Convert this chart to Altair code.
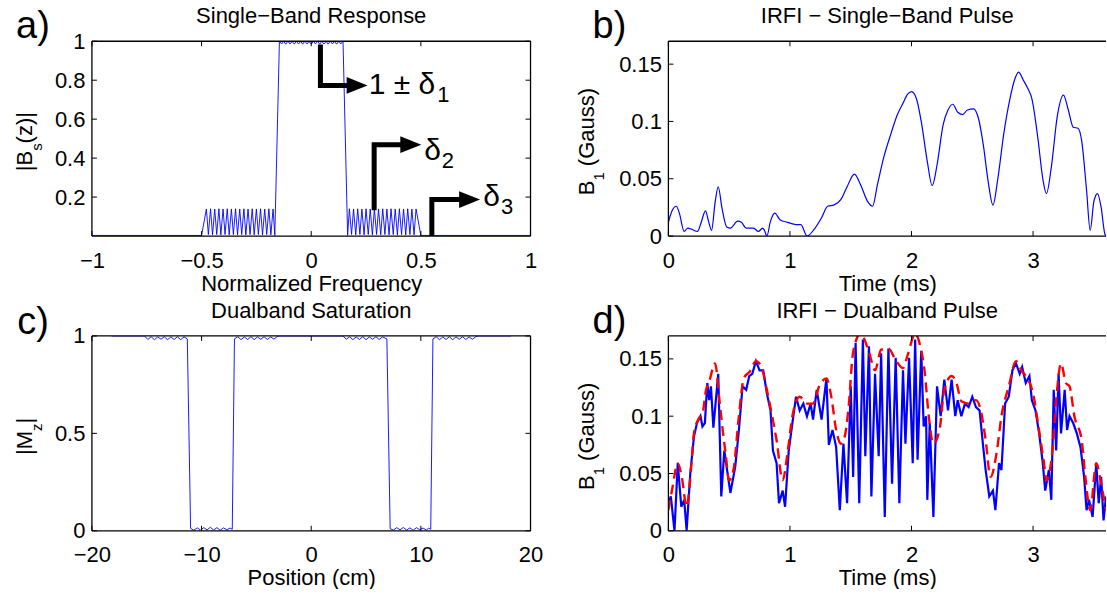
import altair as alt
import pandas as pd

FONT = "Liberation Sans"
FS = 22
WL, WR, H = 439, 438, 195
BLUE = "#0000ff"
RED = "#ff0000"

# ---------------- panel a: single-band response ----------------
A_X = [-1.0, -0.500,
       -0.478, -0.469, -0.459, -0.450, -0.440, -0.431, -0.421, -0.412, -0.402, -0.393, -0.383,
       -0.374, -0.364, -0.355, -0.345, -0.336, -0.326, -0.317, -0.307, -0.298, -0.288, -0.279,
       -0.269, -0.260, -0.250, -0.241, -0.231, -0.222, -0.212, -0.203, -0.193, -0.184, -0.174,
       -0.166,
       -0.145, -0.135, -0.126, -0.116, -0.106, -0.097, -0.087, -0.077, -0.068, -0.058, -0.048,
       -0.039, -0.029, -0.019, -0.010, 0.000, 0.010, 0.019, 0.029, 0.039, 0.048,
       0.058, 0.068, 0.077, 0.087, 0.097, 0.106, 0.116, 0.126, 0.135, 0.145,
       0.166,
       0.174, 0.184, 0.193, 0.203, 0.212, 0.222, 0.231, 0.241, 0.250, 0.260, 0.269,
       0.279, 0.288, 0.298, 0.307, 0.317, 0.326, 0.336, 0.345, 0.355, 0.364, 0.374,
       0.383, 0.393, 0.402, 0.412, 0.421, 0.431, 0.440, 0.450, 0.459, 0.469, 0.478,
       0.500, 1.0]
A_Y = [0.003, 0.003,
       0.139, 0.008, 0.140, 0.006, 0.139, 0.008, 0.140, 0.006, 0.139, 0.008, 0.140,
       0.006, 0.139, 0.008, 0.140, 0.006, 0.139, 0.008, 0.140, 0.006, 0.139, 0.008,
       0.140, 0.006, 0.139, 0.008, 0.140, 0.006, 0.139, 0.008, 0.140, 0.006, 0.139,
       0.004,
       1.000, 0.986, 0.999, 0.985, 1.000, 0.986, 0.999, 0.985, 1.000, 0.986, 0.999,
       0.985, 1.000, 0.986, 0.999, 0.985, 1.000, 0.986, 0.999, 0.985, 1.000,
       0.986, 0.999, 0.985, 1.000, 0.986, 0.999, 0.985, 1.000, 0.986, 1.000,
       0.004,
       0.140, 0.008, 0.139, 0.006, 0.140, 0.008, 0.139, 0.006, 0.140, 0.008, 0.139,
       0.006, 0.140, 0.008, 0.139, 0.006, 0.140, 0.008, 0.139, 0.006, 0.140, 0.008,
       0.139, 0.006, 0.140, 0.008, 0.139, 0.006, 0.140, 0.008, 0.139, 0.006, 0.139,
       0.003, 0.003]
A_XT = [-1, -0.5, 0, 0.5, 1]
A_YT = [0.2, 0.4, 0.6, 0.8, 1]

# annotation arrows (panel a)
ARR_X = [0.042, 0.287, 0.550]
ARR_Y0 = [0.983, 0.132, 0.0]
ARR_Y1 = [0.773, 0.469, 0.187]
ARR_TIP = [0.257, 0.502, 0.770]
LAB_MAIN = ["1 ± δ", "δ", "δ"]
LAB_SUB = ["1", "2", "3"]
LAB_X = [0.262, 0.515, 0.785]
LAB_Y = [0.728, 0.392, 0.152]

# ---------------- panel b: IRFI single-band pulse ----------------
B_T = [0.00, 0.03, 0.065, 0.09, 0.13, 0.16, 0.19, 0.24, 0.27, 0.305,
       0.33, 0.355, 0.385, 0.41, 0.44, 0.48, 0.51, 0.57, 0.60, 0.64,
       0.70, 0.74, 0.775, 0.79, 0.81, 0.84, 0.875, 0.92, 0.98, 1.05,
       1.09, 1.14, 1.20, 1.26, 1.31, 1.36, 1.42, 1.47, 1.53, 1.58,
       1.64, 1.68, 1.72, 1.77, 1.83, 1.88, 1.93, 1.97, 2.00, 2.04,
       2.08, 2.13, 2.17, 2.21, 2.26, 2.30, 2.34, 2.38, 2.42, 2.46,
       2.51, 2.55, 2.59, 2.63, 2.67, 2.71, 2.76, 2.81, 2.85, 2.88,
       2.92, 2.96, 2.99, 3.04, 3.08, 3.11, 3.15, 3.20, 3.25, 3.29,
       3.33, 3.37, 3.40, 3.44, 3.47, 3.50, 3.53, 3.56, 3.59, 3.60]
B_Y = [0.012, 0.022, 0.026, 0.020, 0.004, 0.007, 0.006, 0.004, 0.012, 0.022,
       0.013, 0.005, 0.030, 0.043, 0.025, 0.008, 0.007, 0.013, 0.012, 0.007,
       0.007, 0.004, 0.007, 0.005, 0.000, 0.013, 0.020, 0.014, 0.012, 0.010,
       0.010, 0.000, 0.006, 0.016, 0.026, 0.027, 0.032, 0.043, 0.054, 0.045,
       0.030, 0.026, 0.045, 0.068, 0.089, 0.105, 0.116, 0.124, 0.126, 0.120,
       0.100, 0.065, 0.044, 0.062, 0.097, 0.110, 0.115, 0.108, 0.106, 0.110,
       0.111, 0.103, 0.080, 0.048, 0.027, 0.050, 0.090, 0.120, 0.137, 0.143,
       0.136, 0.128, 0.120, 0.085, 0.050, 0.037, 0.060, 0.105, 0.123, 0.110,
       0.095, 0.094, 0.083, 0.040, 0.005, 0.030, 0.037, 0.025, 0.002, 0.000]
T_XT = [0, 1, 2, 3]
T_YT = [0, 0.05, 0.1, 0.15]

# ---------------- panel c: dualband saturation ----------------
C_X = [-18.2, -15.2, -14.9, -14.6, -14.3, -14.0, -13.7, -13.4, -13.1, -12.8, -12.5, -12.2, -11.9, -11.6, -11.3,
       -11.0, -10.7, -10.4, -10.1, -9.8, -9.5, -9.2, -8.9, -8.6, -8.3, -8.0, -7.7, -7.4, -7.2,
       -7.0, -6.7, -6.4, -6.1, -5.8, -5.5, -5.2, -4.9, -4.6, -4.3, -4.0, -3.7, -3.4, -3.1, -2.9,
       2.9, 3.2, 3.5, 3.8, 4.1, 4.4, 4.7, 5.0, 5.3, 5.6, 5.9, 6.2, 6.5, 6.9,
       7.2, 7.5, 7.8, 8.1, 8.4, 8.7, 9.0, 9.3, 9.6, 9.9, 10.2, 10.5, 10.7, 10.9,
       11.1, 11.4, 11.7, 12.0, 12.3, 12.6, 12.9, 13.2, 13.5, 13.8, 14.1, 14.4, 14.7, 15.0, 15.2, 18.2]
C_Y = [1.0, 1.0, 0.982, 0.996, 0.981, 0.995, 0.983, 0.996, 0.981, 0.995, 0.982, 0.996, 0.981, 0.995, 0.985,
       0.012, 0.003, 0.015, 0.004, 0.016, 0.005, 0.018, 0.004, 0.016, 0.003, 0.015, 0.005, 0.014, 0.008,
       0.985, 0.996, 0.981, 0.995, 0.982, 0.996, 0.981, 0.995, 0.983, 0.996, 0.982, 0.995, 0.984, 0.997, 1.0,
       1.0, 0.983, 0.996, 0.981, 0.995, 0.982, 0.996, 0.981, 0.995, 0.983, 0.996, 0.982, 0.995, 0.985,
       0.010, 0.004, 0.016, 0.005, 0.017, 0.004, 0.015, 0.003, 0.016, 0.005, 0.014, 0.004, 0.013, 0.008,
       0.985, 0.996, 0.981, 0.995, 0.982, 0.996, 0.981, 0.995, 0.983, 0.996, 0.982, 0.995, 0.983, 0.996, 1.0, 1.0]
C_XT = [-20, -10, 0, 10, 20]
C_YT = [0, 0.5, 1]

# ---------------- panel d: IRFI dualband pulse ----------------
D_T = [0.00, 0.02, 0.05, 0.077, 0.106, 0.13, 0.15, 0.18, 0.21, 0.235,
       0.264, 0.28, 0.30, 0.32, 0.335, 0.35, 0.37, 0.41, 0.435, 0.46,
       0.51, 0.55, 0.58, 0.61, 0.64, 0.665, 0.69, 0.72, 0.75, 0.78,
       0.81, 0.84, 0.86, 0.89, 0.91, 0.94, 0.96, 0.99, 1.02, 1.05,
       1.08, 1.11, 1.14, 1.17, 1.19, 1.22, 1.26, 1.30, 1.32, 1.35,
       1.38, 1.41, 1.44, 1.47, 1.50, 1.52, 1.54, 1.57, 1.60, 1.62,
       1.65, 1.67, 1.70, 1.73, 1.75, 1.78, 1.81, 1.84, 1.87, 1.90,
       1.93, 1.95, 1.98, 2.01, 2.03, 2.05, 2.08, 2.10, 2.12, 2.13,
       2.15, 2.18, 2.21, 2.24, 2.27, 2.30, 2.33, 2.36, 2.38, 2.41,
       2.44, 2.47, 2.50, 2.53, 2.56, 2.59, 2.61, 2.64, 2.67, 2.69,
       2.72, 2.74, 2.77, 2.80, 2.83, 2.86, 2.89, 2.91, 2.94, 2.97,
       2.99, 3.02, 3.05, 3.08, 3.10, 3.13, 3.15, 3.17, 3.19, 3.21,
       3.23, 3.26, 3.28, 3.30, 3.33, 3.36, 3.39, 3.42, 3.44, 3.46,
       3.49, 3.52, 3.54, 3.56, 3.58, 3.60]
D_Y = [0.024, 0.030, 0.000, 0.059, 0.021, 0.027, 0.000, 0.050, 0.082, 0.094,
       0.100, 0.091, 0.094, 0.129, 0.114, 0.126, 0.090, 0.137, 0.030, 0.070,
       0.033, 0.056, 0.088, 0.126, 0.123, 0.135, 0.137, 0.148, 0.140, 0.140,
       0.120, 0.105, 0.070, 0.059, 0.024, 0.035, 0.021, 0.070, 0.094, 0.117,
       0.105, 0.111, 0.100, 0.111, 0.097, 0.123, 0.097, 0.133, 0.075, 0.088,
       0.073, 0.018, 0.076, 0.024, 0.126, 0.047, 0.164, 0.024, 0.167, 0.065,
       0.161, 0.030, 0.137, 0.065, 0.155, 0.012, 0.159, 0.041, 0.151, 0.024,
       0.140, 0.076, 0.151, 0.059, 0.167, 0.062, 0.157, 0.091, 0.100, 0.027,
       0.094, 0.012, 0.126, 0.100, 0.132, 0.105, 0.132, 0.100, 0.114, 0.100,
       0.111, 0.108, 0.117, 0.108, 0.105, 0.073, 0.053, 0.030, 0.035, 0.018,
       0.059, 0.053, 0.111, 0.117, 0.140, 0.146, 0.137, 0.143, 0.129, 0.135,
       0.114, 0.105, 0.085, 0.059, 0.035, 0.053, 0.027, 0.123, 0.070, 0.137,
       0.085, 0.123, 0.088, 0.100, 0.094, 0.085, 0.073, 0.047, 0.018, 0.027,
       0.012, 0.059, 0.024, 0.047, 0.009, 0.030]
E_T = [0.0, 0.034, 0.077, 0.11, 0.15, 0.19, 0.21, 0.25, 0.28, 0.31,
       0.335, 0.384, 0.42, 0.45, 0.47, 0.50, 0.535, 0.58, 0.62, 0.67,
       0.72, 0.765, 0.81, 0.85, 0.89, 0.94, 0.98, 1.02, 1.08, 1.14,
       1.19, 1.24, 1.30, 1.34, 1.38, 1.42, 1.45, 1.48, 1.52, 1.58,
       1.65, 1.70, 1.75, 1.81, 1.87, 1.93, 1.97, 2.03, 2.07, 2.11,
       2.14, 2.18, 2.23, 2.27, 2.33, 2.37, 2.41, 2.47, 2.53, 2.57,
       2.61, 2.65, 2.70, 2.74, 2.80, 2.86, 2.91, 2.96, 3.00, 3.04,
       3.09, 3.11, 3.16, 3.19, 3.23, 3.27, 3.30, 3.34, 3.40, 3.43,
       3.47, 3.52, 3.56, 3.60]
E_Y = [0.018, 0.038, 0.059, 0.047, 0.021, 0.059, 0.085, 0.098, 0.102, 0.123,
       0.130, 0.146, 0.114, 0.085, 0.068, 0.044, 0.053, 0.100, 0.133, 0.139,
       0.148, 0.143, 0.123, 0.102, 0.079, 0.044, 0.068, 0.100, 0.117, 0.111,
       0.111, 0.126, 0.133, 0.117, 0.088, 0.076, 0.082, 0.105, 0.156, 0.172,
       0.156, 0.140, 0.158, 0.159, 0.149, 0.142, 0.154, 0.172, 0.162, 0.137,
       0.102, 0.076, 0.088, 0.123, 0.135, 0.129, 0.113, 0.111, 0.114, 0.105,
       0.079, 0.047, 0.068, 0.100, 0.126, 0.148, 0.139, 0.132, 0.120, 0.094,
       0.059, 0.044, 0.071, 0.114, 0.146, 0.129, 0.126, 0.100, 0.079, 0.047,
       0.018, 0.059, 0.041, 0.018]

# Helvetica/Arial advance widths (em) for building composite labels
CW = {"|": 0.26, "B": 0.667, "s": 0.5, "(": 0.333, "z": 0.5, ")": 0.333, "M": 0.833,
      "1": 0.556, " ": 0.278, "G": 0.778, "a": 0.556, "u": 0.556, "±": 0.584, "δ": 0.556}


def tw(s, size):
    return sum(CW.get(c, 0.556) for c in s) * size


def txt(s, x, y, size=FS, align="center", angle=None, dx=0.0, dy=0.0):
    props = dict(font=FONT, fontSize=size, align=align, baseline="alphabetic", color="black")
    if dx:
        props["dx"] = dx
    if dy:
        props["dy"] = dy
    if angle is not None:
        props["angle"] = angle
    return alt.Chart(pd.DataFrame({"t": [s]})).mark_text(**props).encode(
        text="t:N", x=alt.value(x), y=alt.value(y))


def ytitle(pieces, xb, yc):
    widths = [tw(t, sz) for t, sz, sub in pieces]
    off = -sum(widths) / 2
    out = []
    for (t, sz, sub), w in zip(pieces, widths):
        lead = tw(t[:len(t) - len(t.lstrip())], sz)
        out.append(txt(t.strip(), xb, yc, size=sz, align="left", angle=270, dx=off + lead,
                       dy=10 if sub else 0))
        off += w
    return out


def border(w, right=True):
    b = alt.Chart(pd.DataFrame({"k": [0]}))
    st = dict(color="black", strokeWidth=1.3)
    out = [b.mark_rule(**st).encode(x=alt.value(0), x2=alt.value(w), y=alt.value(0)),
           b.mark_rule(**st).encode(x=alt.value(0), x2=alt.value(w), y=alt.value(H)),
           b.mark_rule(**st).encode(x=alt.value(0), y=alt.value(0), y2=alt.value(H))]
    if right:
        out.append(b.mark_rule(**st).encode(x=alt.value(w), y=alt.value(0), y2=alt.value(H)))
    return out


def xaxis(values, title):
    return alt.Axis(values=values, title=title, format="~r", ticks=False, domain=False, grid=False,
                    labelPadding=14, titlePadding=2, labelFlush=False, labelOverlap=False)


def yaxis(values):
    return alt.Axis(values=values, title=None, format="~r", ticks=False, domain=False, grid=False,
                    labelPadding=7, labelFlush=False, labelOverlap=False)


def inticks(X, Y, xt, yt, w, right=True, L=5):
    bx = alt.Chart(pd.DataFrame({"v": xt}))
    by = alt.Chart(pd.DataFrame({"v": yt}))
    st = dict(color="black", strokeWidth=1)
    out = [bx.mark_rule(**st).encode(x=X("v"), y=alt.value(H), y2=alt.value(H - L)),
           bx.mark_rule(**st).encode(x=X("v"), y=alt.value(0), y2=alt.value(L)),
           by.mark_rule(**st).encode(y=Y("v"), x=alt.value(0), x2=alt.value(L))]
    if right:
        out.append(by.mark_rule(**st).encode(y=Y("v"), x=alt.value(w), x2=alt.value(w - L)))
    return out


def make_xy(xdom, ydom, xt, yt, xtitle):
    xs = alt.Scale(domain=xdom, nice=False, zero=False)
    ys = alt.Scale(domain=ydom, nice=False, zero=False)
    ax = xaxis(xt, xtitle)
    ay = yaxis(yt)

    def X(f):
        return alt.X(f + ":Q", scale=xs, axis=ax)

    def Y(f):
        return alt.Y(f + ":Q", scale=ys, axis=ay)
    return X, Y


# ---------- panel a ----------
XA, YA = make_xy([-1, 1], [0, 1], A_XT, A_YT, "Normalized Frequency")
line_a = alt.Chart(pd.DataFrame({"x": A_X, "y": A_Y})).mark_line(
    color=BLUE, strokeWidth=0.9, clip=True).encode(x=XA("x"), y=YA("y"))

rows = []
for i in range(3):
    rows += [(i, 0, ARR_X[i], ARR_Y0[i]), (i, 1, ARR_X[i], ARR_Y1[i]), (i, 2, ARR_TIP[i] - 0.06, ARR_Y1[i])]
arr_df = pd.DataFrame(rows, columns=["g", "o", "x", "y"])
arrows = alt.Chart(arr_df).mark_line(color="black", strokeWidth=5, strokeJoin="miter", strokeCap="butt").encode(
    x=XA("x"), y=YA("y"), detail="g:N", order="o:Q")
heads = alt.Chart(pd.DataFrame({"x": ARR_TIP, "y": ARR_Y1})).mark_point(
    shape="M -2 -0.8 L 0 0 L -2 0.8 Z", size=441, filled=True, color="black", opacity=1).encode(
    x=XA("x"), y=YA("y"))
labels = []
for i in range(3):
    d = pd.DataFrame({"x": [LAB_X[i]], "y": [LAB_Y[i]], "m": [LAB_MAIN[i]], "s": [LAB_SUB[i]]})
    labels.append(alt.Chart(d).mark_text(font=FONT, fontSize=30, align="left", baseline="alphabetic",
                                         color="black").encode(x=XA("x"), y=YA("y"), text="m:N"))
    labels.append(alt.Chart(d).mark_text(font=FONT, fontSize=22, align="left", baseline="alphabetic", color="black",
                                         dx=tw(LAB_MAIN[i], 30) + 1, dy=8).encode(
        x=XA("x"), y=YA("y"), text="s:N"))

anchor = alt.Chart(pd.DataFrame({"k": [0]})).mark_point(size=1, filled=True, opacity=0).encode(
    x=alt.value(-91.5), y=alt.value(-40.5))

pa = alt.layer(line_a, *border(WL), *inticks(XA, YA, A_XT, A_YT, WL), arrows, heads, *labels,
               txt("Single\u2212Band Response", WL / 2, -18), txt("a)", -59, -3, size=38),
               *ytitle([("|B", FS, False), ("s", 15, True), ("(z)|", FS, False)], -60, H / 2 + 3),
               anchor).properties(width=WL, height=H)

# ---------- panel b ----------
XB, YB = make_xy([0, 3.6], [0, 0.17], T_XT, T_YT, "Time (ms)")
line_b = alt.Chart(pd.DataFrame({"x": B_T, "y": B_Y})).mark_line(
    color=BLUE, strokeWidth=1.2, clip=True, interpolate="monotone").encode(x=XB("x"), y=YB("y"))
pb = alt.layer(line_b, *border(WR, right=False), *inticks(XB, YB, T_XT, T_YT, WR, right=False),
               txt("IRFI \u2212 Single\u2212Band Pulse", WR / 2, -18), txt("b)", -59, -3, size=38),
               *ytitle([("B", FS, False), ("1", 15, True), (" (Gauss)", FS, False)], -74, H / 2 + 3)
               ).properties(width=WR, height=H)

# ---------- panel c ----------
XC, YC = make_xy([-20, 20], [0, 1], C_XT, C_YT, "Position (cm)")
line_c = alt.Chart(pd.DataFrame({"x": C_X, "y": C_Y})).mark_line(
    color=BLUE, strokeWidth=0.9, clip=True).encode(x=XC("x"), y=YC("y"))
pc = alt.layer(line_c, *border(WL), *inticks(XC, YC, C_XT, C_YT, WL),
               txt("Dualband Saturation", WL / 2, -18), txt("c)", -59, -2, size=38),
               *ytitle([("|M", FS, False), ("z", 15, True), ("|", FS, False)], -60, H / 2 + 3)
               ).properties(width=WL, height=H)

# ---------- panel d ----------
XD, YD = make_xy([0, 3.6], [0, 0.17], T_XT, T_YT, "Time (ms)")
line_d = alt.Chart(pd.DataFrame({"x": D_T, "y": D_Y})).mark_line(
    color=BLUE, strokeWidth=2.2, clip=True).encode(x=XD("x"), y=YD("y"))
env_d = alt.Chart(pd.DataFrame({"x": E_T, "y": E_Y})).mark_line(
    color=RED, strokeWidth=2.4, strokeDash=[10, 6], clip=True, interpolate="monotone").encode(
    x=XD("x"), y=YD("y"))
pdd = alt.layer(line_d, env_d, *border(WR, right=False), *inticks(XD, YD, T_XT, T_YT, WR, right=False),
                txt("IRFI \u2212 Dualband Pulse", WR / 2, -18), txt("d)", -59, -3, size=38),
                *ytitle([("B", FS, False), ("1", 15, True), (" (Gauss)", FS, False)], -74, H / 2 + 3)
                ).properties(width=WR, height=H)

chart = alt.concat(pa, pb, pc, pdd, columns=2, spacing={"row": 100, "column": 138}, bounds="flush").properties(
    padding=0, background="white"
).configure_axis(
    labelFont=FONT, labelFontSize=FS, labelColor="black",
    titleFont=FONT, titleFontSize=FS, titleFontWeight="normal", titleColor="black"
).configure_view(stroke=None)

chart.save("out.html", embed_options={"renderer": "svg", "actions": False})
